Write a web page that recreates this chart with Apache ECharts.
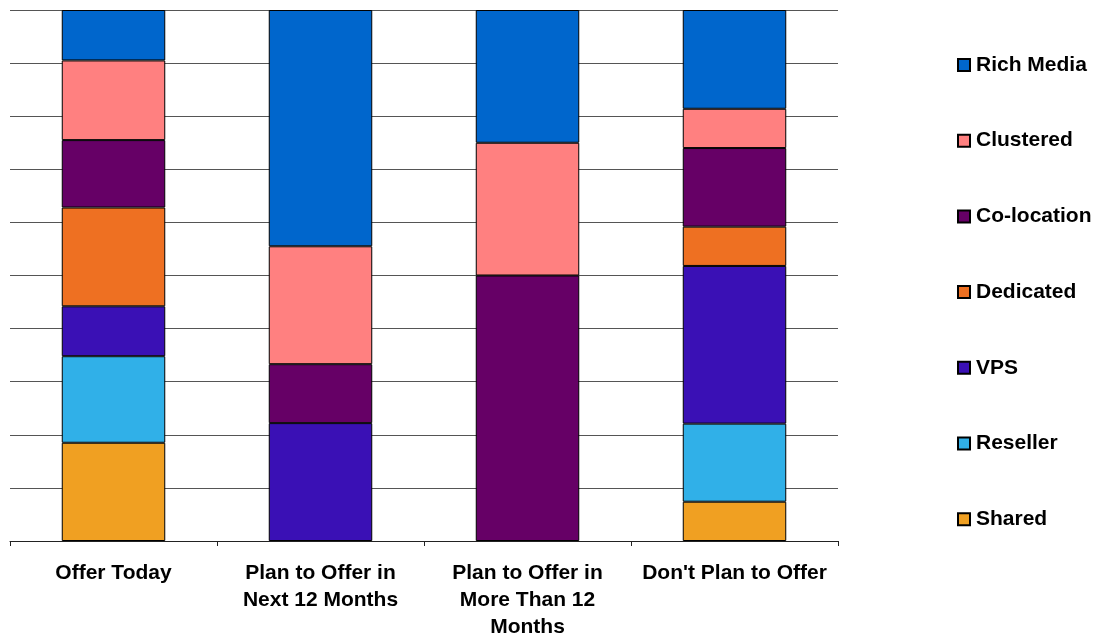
<!DOCTYPE html>
<html>
<head>
<meta charset="utf-8">
<script src="https://cdn.jsdelivr.net/npm/echarts@6/dist/echarts.min.js"></script>
<style>
  html, body { margin: 0; padding: 0; background: #fff; }
  #chart { width: 1095px; height: 635px; }
</style>
</head>
<body>
<div id="chart"></div>
<script>
// categories (x axis)
var categories = ['Offer Today', 'Plan to Offer in\nNext 12 Months', 'Plan to Offer in\nMore Than 12\nMonths', "Don't Plan to Offer"]

// series, bottom of the stack first (share of each column, %)
var shared = [18.5, 0, 0, 7.4]
var reseller = [16.3, 0, 0, 14.7]
var vps = [9.4, 22.2, 0, 29.7]
var dedicated = [18.6, 0, 0, 7.4]
var colocation = [12.7, 11.1, 50, 14.8]
var clustered = [15.0, 22.2, 25, 7.4]
var richMedia = [9.5, 44.5, 25, 18.6]

var seriesNames = ['Shared', 'Reseller', 'VPS', 'Dedicated', 'Co-location', 'Clustered', 'Rich Media']
var seriesData = [shared, reseller, vps, dedicated, colocation, clustered, richMedia]
var seriesColors = ['#F0A022', '#30B0E8', '#3A10B5', '#EE7022', '#660066', '#FF8080', '#0066CC']

var font = "'Liberation Sans', Arial, sans-serif"

var chart = echarts.init(document.getElementById('chart'))

chart.setOption({
  animation: false,
  backgroundColor: '#fff',
  grid: {
    left: 10,
    right: 257,
    top: 10,
    bottom: 94,
    outerBoundsMode: 'none'
  },
  legend: {
    orient: 'vertical',
    left: 952,
    top: 49,
    icon: 'rect',
    itemWidth: 12,
    itemHeight: 12,
    itemGap: 53.7,
    data: seriesNames.slice().reverse(),
    textStyle: {
      color: '#000',
      fontFamily: font,
      fontWeight: 'bold',
      fontSize: 21,
      lineHeight: 22,
      padding: [0, 0, 0, 1]
    }
  },
  xAxis: {
    type: 'category',
    data: categories,
    axisLine: {
      lineStyle: { color: '#222', width: 1 }
    },
    axisTick: {
      show: true,
      length: 5,
      lineStyle: { color: '#222' }
    },
    axisLabel: {
      interval: 0,
      margin: 19,
      color: '#000',
      fontFamily: font,
      fontWeight: 'bold',
      fontSize: 21,
      lineHeight: 27
    }
  },
  yAxis: {
    type: 'value',
    min: 0,
    max: 100,
    interval: 10,
    axisLine: { show: false },
    axisTick: { show: false },
    axisLabel: { show: false },
    splitLine: {
      lineStyle: { color: '#555', width: 1 }
    }
  },
  series: seriesNames.map(function (name, i) {
    return {
      name: name,
      type: 'bar',
      stack: 'total',
      barWidth: '50%',
      data: seriesData[i].map(function (v) { return v === 0 ? null : v }),
      itemStyle: {
        color: seriesColors[i],
        borderColor: '#000',
        borderWidth: 1
      }
    }
  })
})
</script>
</body>
</html>
